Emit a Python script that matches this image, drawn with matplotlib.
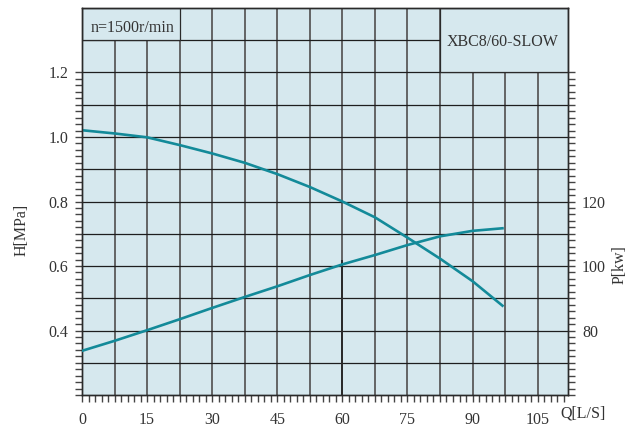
import numpy as np
import matplotlib.pyplot as plt
from matplotlib.patches import Rectangle
from matplotlib.ticker import MultipleLocator, FuncFormatter

plt.rcParams['font.family'] = ['Liberation Serif', 'DejaVu Serif']

# flow Q [L/S]
q = [0, 7.5, 15, 22.5, 30, 37.5, 45, 52.5, 60, 67.5, 75, 82.5, 90, 96.9]
# head H [MPa]
head = [1.021, 1.011, 0.999, 0.975, 0.949, 0.920, 0.885, 0.845, 0.800, 0.751, 0.688, 0.623, 0.553, 0.477]
# shaft power P [kw]
power = [73.7, 76.8, 80.1, 83.5, 87.0, 90.4, 93.7, 97.2, 100.5, 103.4, 106.5, 109.2, 110.9, 111.7]

x_ticks = [0, 15, 30, 45, 60, 75, 90, 105]
h_labels = [0.4, 0.6, 0.8, 1.0, 1.2]
p_labels = [80, 100, 120]

bg = '#d6e8ee'
curve = '#138a99'
txt = '#333333'
fs = 11.5

fig = plt.figure(figsize=(6.29, 4.32), dpi=100)
ax = fig.add_axes([0.1304, 0.0856, 0.7726, 0.8959])
ax.set_facecolor(bg)
ax.set_xlim(0, 112)
ax.set_ylim(0.2, 1.4)

# grid drawn by hand so the header boxes can cover parts of it
for xv in np.arange(7.5, 111, 7.5):
    ax.axvline(xv, color='#5a5a5a', lw=1.3, zorder=1)
for yv in np.arange(0.3, 1.35, 0.1):
    ax.axhline(yv, color='#1e1e1e', lw=0.9, zorder=1)
ax.vlines(60, 0.2, 0.62, color='#2a2a2a', lw=1.4, zorder=1)

# header boxes
ax.add_patch(Rectangle((0, 1.3), 22.5, 0.1, fc=bg, ec='#2a2a2a', lw=0.9, zorder=2))
ax.add_patch(Rectangle((82.5, 1.2), 29.5, 0.2, fc=bg, ec='#2a2a2a', lw=0.9, zorder=2))
ax.text(2, 1.338, 'n=1500r/min', fontsize=fs, color=txt, va='center', ha='left', zorder=3)
ax.text(84, 1.295, 'XBC8/60-SLOW', fontsize=fs, color=txt, va='center', ha='left', zorder=3)

ax.plot(q, head, color=curve, lw=1.9, zorder=4)

# left axis ticks
ax.set_yticks(np.round(np.arange(0.2, 1.21, 0.1), 2))
ax.set_yticks(np.round(np.arange(0.2, 1.21, 0.02), 2), minor=True)
ax.yaxis.set_major_formatter(FuncFormatter(
    lambda v, p: f'{v:.1f}' if any(abs(v - h) < 1e-6 for h in h_labels) else ''))

# x axis ticks
ax.xaxis.set_major_locator(MultipleLocator(7.5))
ax.set_xticks(np.arange(0, 112, 1.5), minor=True)
ax.xaxis.set_major_formatter(FuncFormatter(
    lambda v, p: f'{v:.0f}' if any(abs(v - t) < 1e-6 for t in x_ticks) else ''))

ax.tick_params(which='both', direction='out', length=5, width=1, color='#444444',
               labelsize=fs, labelcolor=txt)
ax.tick_params(axis='y', pad=5)
ax.tick_params(axis='x', pad=7)

for s in ax.spines.values():
    s.set_color('#2a2a2a')
    s.set_linewidth(1)

# right axis: power
ax2 = ax.twinx()
ax2.set_ylim(60, 180)
ax2.plot(q, power, color=curve, lw=1.9, zorder=4)
ax2.set_yticks(np.arange(60, 161, 10))
ax2.set_yticks(np.arange(60, 161, 2), minor=True)
ax2.yaxis.set_major_formatter(FuncFormatter(
    lambda v, p: f'{v:.0f}' if any(abs(v - t) < 1e-6 for t in p_labels) else ''))
ax2.tick_params(which='both', direction='out', length=5, width=1, color='#444444',
                labelsize=fs, labelcolor=txt, pad=5)
for s in ax2.spines.values():
    s.set_color('#2a2a2a')
    s.set_linewidth(1)

fig.text(22 / 629, 1 - 230 / 432, 'H[MPa]', rotation=90, fontsize=fs, color=txt,
         ha='center', va='center')
fig.text(620 / 629, 1 - 265 / 432, 'P[kw]', rotation=90, fontsize=fs, color=txt,
         ha='center', va='center')
fig.text(583 / 629, 1 - 414 / 432, 'Q[L/S]', fontsize=fs, color=txt,
         ha='center', va='center')

fig.savefig('out.png', dpi=100)
